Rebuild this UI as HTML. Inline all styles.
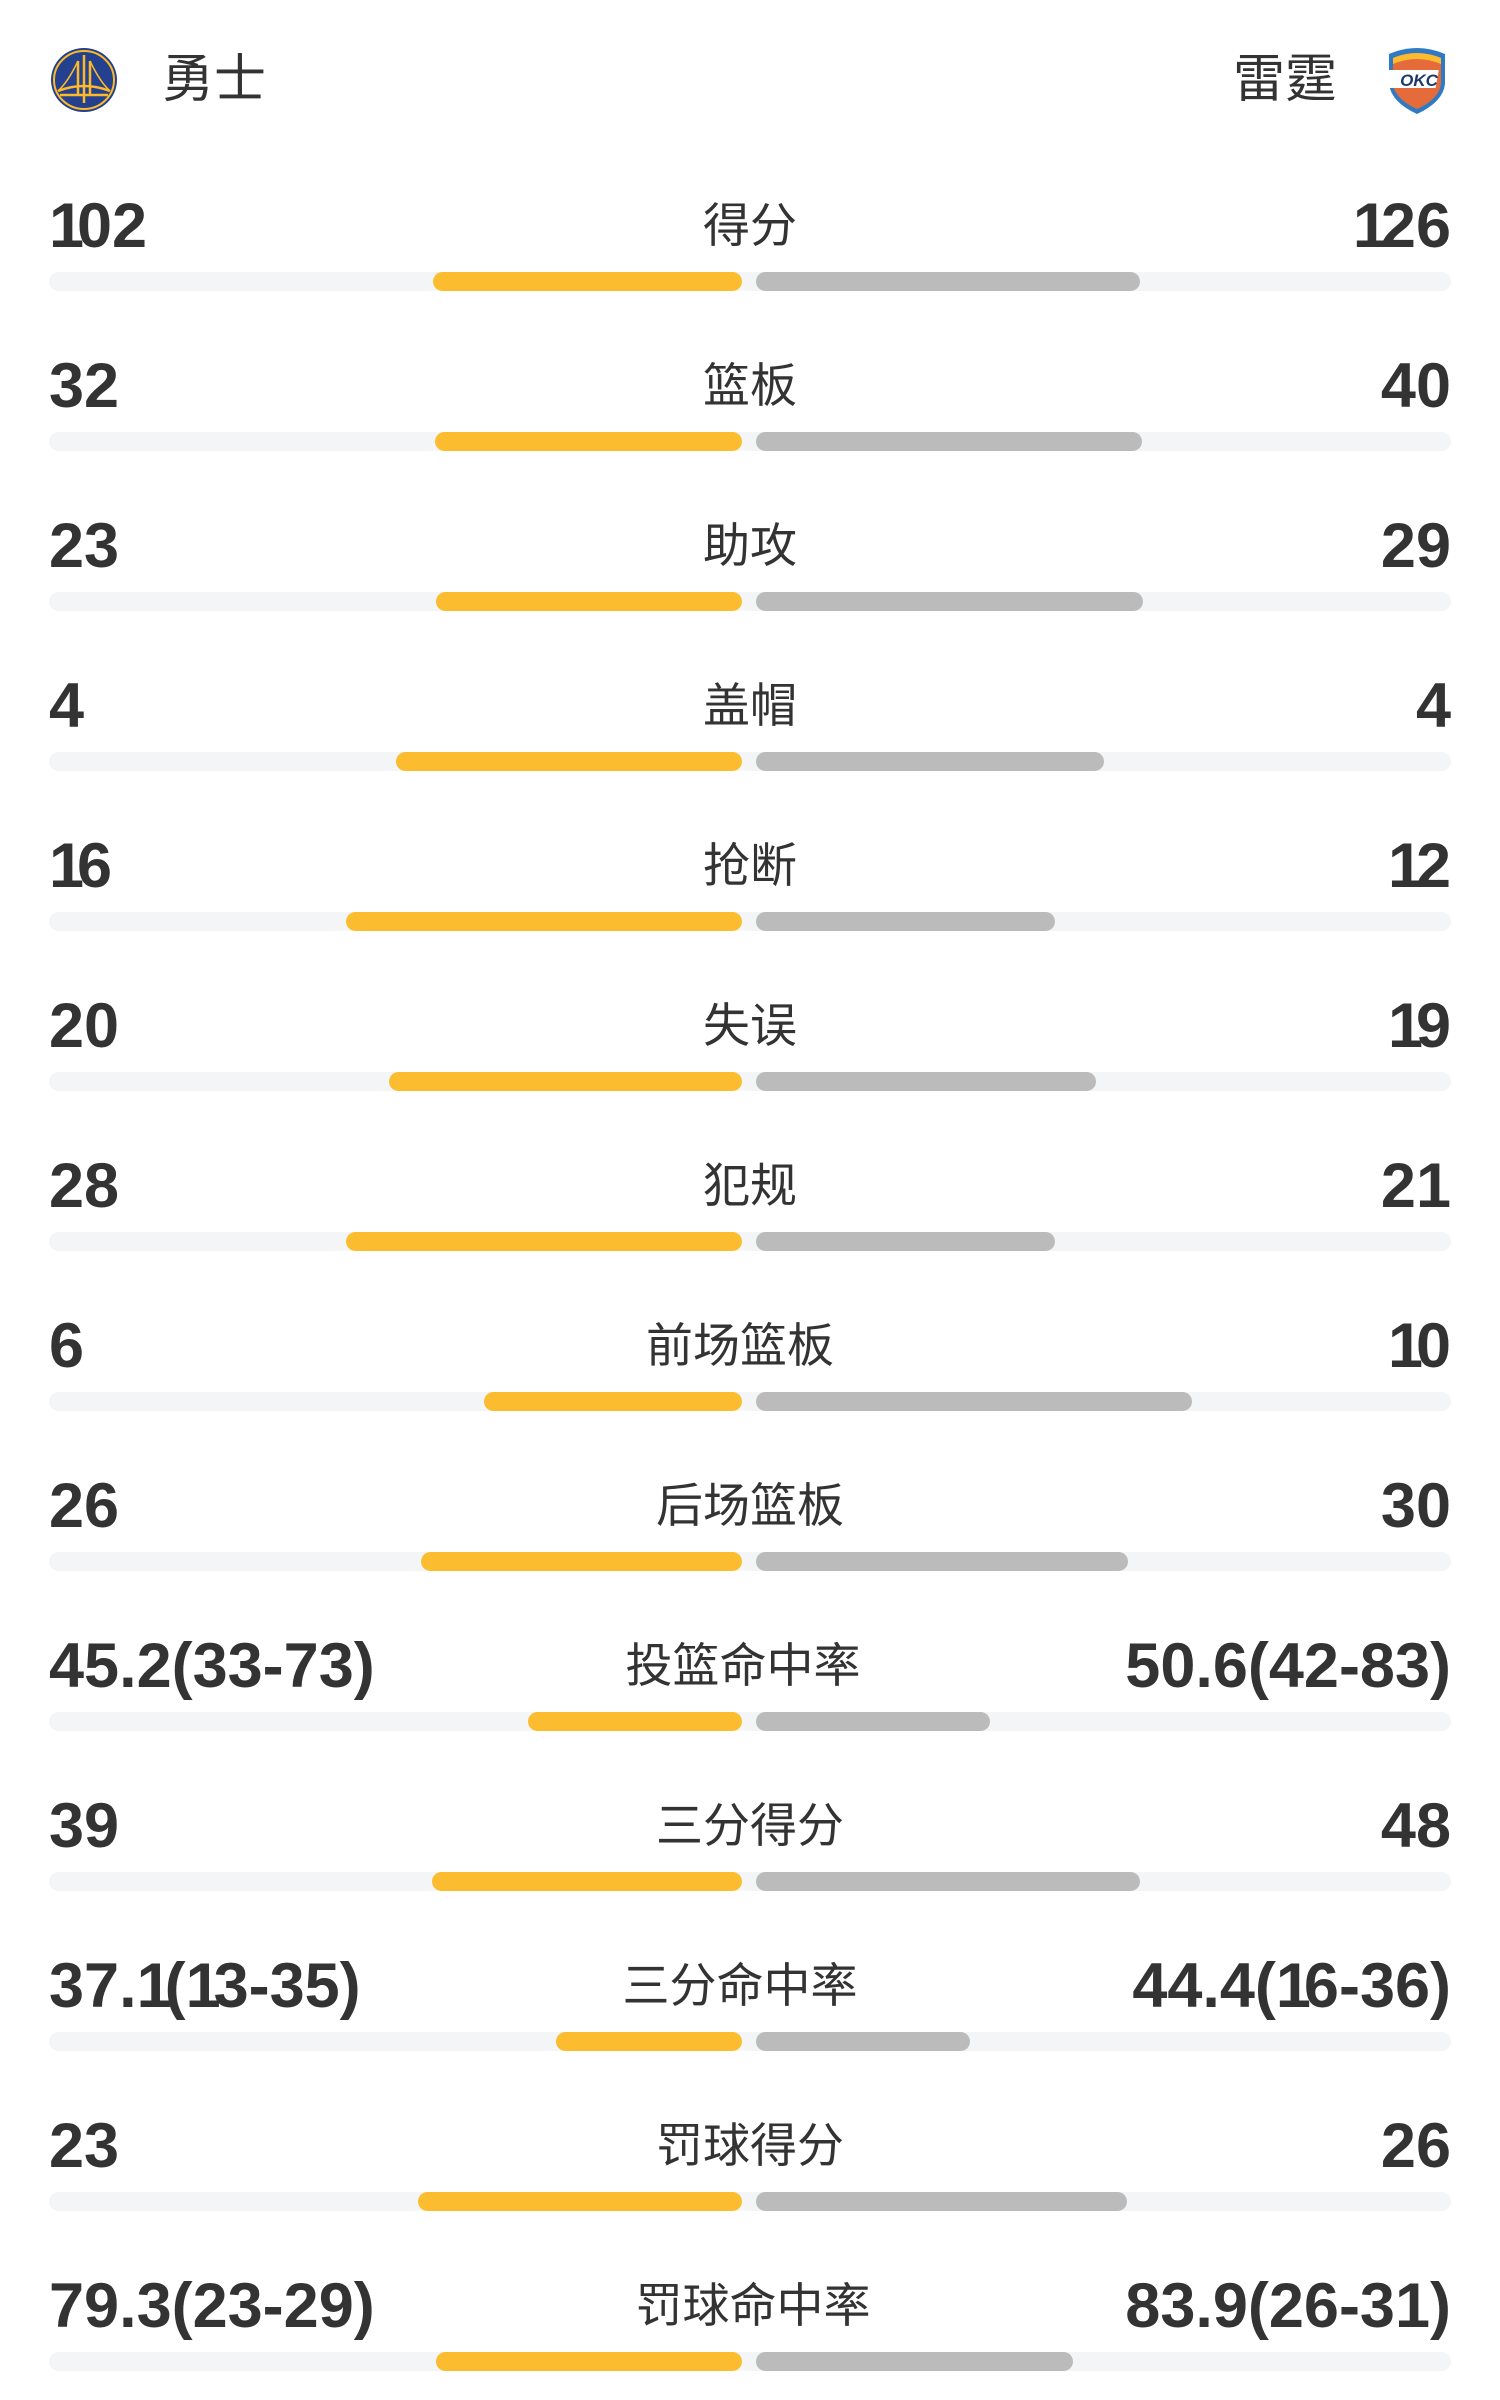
<!DOCTYPE html>
<html><head><meta charset="utf-8">
<style>
html,body{margin:0;padding:0;background:#fff;}
body{width:1500px;height:2400px;position:relative;overflow:hidden;font-family:"Liberation Sans","Noto Sans CJK SC",sans-serif;color:#333;}
.team{position:absolute;top:50px;font-size:52px;line-height:60px;color:#333;}
.n{position:absolute;font-size:63px;font-weight:bold;line-height:70px;color:#333;}
.n i{font-style:normal;display:inline-block;width:28px;overflow:visible;}
.l{left:49px}.r{right:49px;text-align:right}
.lab{position:absolute;left:450px;width:600px;text-align:center;font-size:47px;line-height:70px;color:#333;}
.tr{position:absolute;left:49px;width:1402px;height:19px;border-radius:10px;background:#F4F5F7;}
.o{position:absolute;height:19px;border-radius:10px;background:#FBBD2F;}
.g{position:absolute;height:19px;border-radius:10px;background:#BBBBBB;left:756px;}
</style></head><body>
<svg style="position:absolute;left:50px;top:47px" width="68" height="66" viewBox="0 0 68 66">
<ellipse cx="34" cy="33" rx="33" ry="32" fill="#24418F"/>
<ellipse cx="34" cy="33" rx="30" ry="29" fill="none" stroke="#FDB927" stroke-width="2"/>
<path d="M34 8 L34 56 M28 14 L28 48 M40 14 L40 48 M8 44 Q34 34 60 44 M10 48 L58 48" stroke="#FDB927" stroke-width="2.5" fill="none"/>
<path d="M28 14 Q18 35 8 44 M40 14 Q50 35 60 44" stroke="#FDB927" stroke-width="1.5" fill="none"/>
</svg>
<div class="team" style="left:162px">勇士</div>
<div class="team" style="right:163px">雷霆</div>
<svg style="position:absolute;left:1383px;top:46px" width="68" height="70" viewBox="0 0 68 70">
<path d="M6 8 Q34 -4 62 8 L62 38 Q60 56 34 68 Q8 56 6 38 Z" fill="#2E7BC4"/>
<path d="M10 12 Q34 2 58 12 L58 38 Q56 53 34 63 Q12 53 10 38 Z" fill="#E56B3A"/>
<path d="M10 12 Q34 2 58 12 L58 18 Q34 8 10 18 Z" fill="#FDBB30"/>
<rect x="8" y="24" width="52" height="18" fill="#fff" transform="skewX(-10)"/>
<text x="36" y="40" font-family="Liberation Sans" font-weight="bold" font-style="italic" font-size="17" fill="#1D3A6E" text-anchor="middle">OKC</text>
</svg>

<div style="position:absolute;top:0;left:0;width:1500px">
<div class="n l" style="top:191px"><i>1</i>02</div><div class="lab" style="top:191px">得分</div><div class="n r" style="top:191px"><i>1</i>26</div>
<div class="tr" style="top:272px"></div><div class="o" style="top:272px;left:433px;width:309px"></div><div class="g" style="top:272px;width:384px"></div>

<div class="n l" style="top:351px">32</div><div class="lab" style="top:351px">篮板</div><div class="n r" style="top:351px">40</div>
<div class="tr" style="top:432px"></div><div class="o" style="top:432px;left:435px;width:307px"></div><div class="g" style="top:432px;width:386px"></div>

<div class="n l" style="top:511px">23</div><div class="lab" style="top:511px">助攻</div><div class="n r" style="top:511px">29</div>
<div class="tr" style="top:592px"></div><div class="o" style="top:592px;left:436px;width:306px"></div><div class="g" style="top:592px;width:387px"></div>

<div class="n l" style="top:671px">4</div><div class="lab" style="top:671px">盖帽</div><div class="n r" style="top:671px">4</div>
<div class="tr" style="top:752px"></div><div class="o" style="top:752px;left:396px;width:346px"></div><div class="g" style="top:752px;width:348px"></div>

<div class="n l" style="top:831px"><i>1</i>6</div><div class="lab" style="top:831px">抢断</div><div class="n r" style="top:831px"><i>1</i>2</div>
<div class="tr" style="top:912px"></div><div class="o" style="top:912px;left:346px;width:396px"></div><div class="g" style="top:912px;width:299px"></div>

<div class="n l" style="top:991px">20</div><div class="lab" style="top:991px">失误</div><div class="n r" style="top:991px"><i>1</i>9</div>
<div class="tr" style="top:1072px"></div><div class="o" style="top:1072px;left:389px;width:353px"></div><div class="g" style="top:1072px;width:340px"></div>

<div class="n l" style="top:1151px">28</div><div class="lab" style="top:1151px">犯规</div><div class="n r" style="top:1151px">21</div>
<div class="tr" style="top:1232px"></div><div class="o" style="top:1232px;left:346px;width:396px"></div><div class="g" style="top:1232px;width:299px"></div>

<div class="n l" style="top:1311px">6</div><div class="lab" style="top:1311px;left:440px">前场篮板</div><div class="n r" style="top:1311px"><i>1</i>0</div>
<div class="tr" style="top:1392px"></div><div class="o" style="top:1392px;left:484px;width:258px"></div><div class="g" style="top:1392px;width:436px"></div>

<div class="n l" style="top:1471px">26</div><div class="lab" style="top:1471px">后场篮板</div><div class="n r" style="top:1471px">30</div>
<div class="tr" style="top:1552px"></div><div class="o" style="top:1552px;left:421px;width:321px"></div><div class="g" style="top:1552px;width:372px"></div>

<div class="n l" style="top:1631px">45.2(33-73)</div><div class="lab" style="top:1631px;left:443px">投篮命中率</div><div class="n r" style="top:1631px">50.6(42-83)</div>
<div class="tr" style="top:1712px"></div><div class="o" style="top:1712px;left:528px;width:214px"></div><div class="g" style="top:1712px;width:234px"></div>

<div class="n l" style="top:1791px">39</div><div class="lab" style="top:1791px">三分得分</div><div class="n r" style="top:1791px">48</div>
<div class="tr" style="top:1872px"></div><div class="o" style="top:1872px;left:432px;width:310px"></div><div class="g" style="top:1872px;width:384px"></div>

<div class="n l" style="top:1951px">37.<i>1</i>(<i>1</i>3-35)</div><div class="lab" style="top:1951px;left:440px">三分命中率</div><div class="n r" style="top:1951px">44.4(<i>1</i>6-36)</div>
<div class="tr" style="top:2032px"></div><div class="o" style="top:2032px;left:556px;width:186px"></div><div class="g" style="top:2032px;width:214px"></div>

<div class="n l" style="top:2111px">23</div><div class="lab" style="top:2111px">罚球得分</div><div class="n r" style="top:2111px">26</div>
<div class="tr" style="top:2192px"></div><div class="o" style="top:2192px;left:418px;width:324px"></div><div class="g" style="top:2192px;width:371px"></div>

<div class="n l" style="top:2271px">79.3(23-29)</div><div class="lab" style="top:2271px;left:453px">罚球命中率</div><div class="n r" style="top:2271px">83.9(26-31)</div>
<div class="tr" style="top:2352px"></div><div class="o" style="top:2352px;left:436px;width:306px"></div><div class="g" style="top:2352px;width:317px"></div>
</div>
</body></html>
